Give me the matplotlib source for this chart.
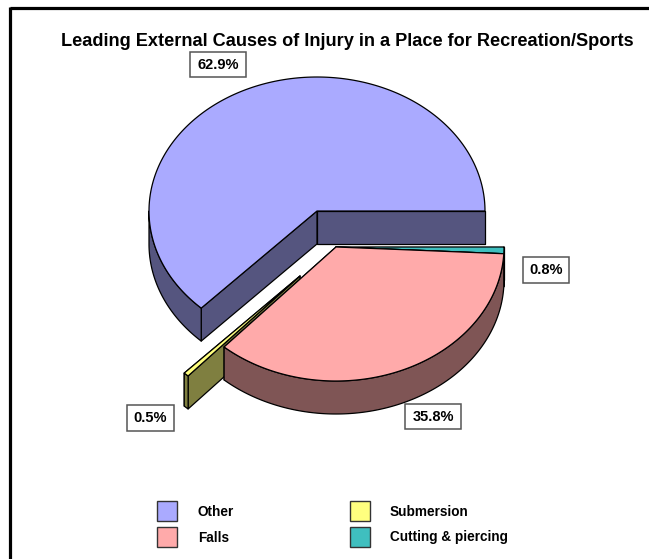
import numpy as np
import matplotlib
matplotlib.use("Agg")
import matplotlib.pyplot as plt
from matplotlib.patches import Polygon, Rectangle

categories = ['Other', 'Submersion', 'Falls', 'Cutting & piercing']
values = [62.9, 0.5, 35.8, 0.8]
colors = ['#AAAAFF', '#FFFF7F', '#FFAAAA', '#3FBFBF']
sides = ['#55557F', '#7F7F40', '#7F5555', '#1F7F7F']
title = 'Leading External Causes of Injury in a Place for Recreation/Sports'

# pie layout in pixels
RX, RY, DEPTH = 168, 134, 33
centers = [(317, 211), (300, 276), (336, 247), (336, 247)]
label_boxes = [(190, 52, 56, 25), (127, 405, 47, 26), (405, 404, 56, 25), (523, 257, 46, 26)]
legend_pos = [(157, 501, 198), (350, 501, 390), (157, 527, 198), (350, 527, 390)]

plt.rcParams['font.family'] = ['Liberation Sans', 'DejaVu Sans']

fig = plt.figure(figsize=(6.49, 5.59), dpi=100)
ax = fig.add_axes([0, 0, 1, 1])
ax.set_xlim(0, 649)
ax.set_ylim(559, 0)
ax.axis('off')

# frame of the original screenshot
ax.plot([10.2, 10.2], [559, 6.5], color='black', lw=2.3, solid_capstyle='butt')
ax.plot([10, 649], [8.3, 8.3], color='black', lw=2.3, solid_capstyle='butt')


def pt(c, deg, r=1.0, dz=0):
    a = np.radians(deg)
    return c[0] + RX * r * np.cos(a), c[1] - RY * r * np.sin(a) + dz


def arc(c, a0, a1, dz=0):
    t = np.linspace(a0, a1, 200)
    return [pt(c, x, dz=dz) for x in t]


def add(points, color, z):
    ax.add_patch(Polygon(points, closed=True, facecolor=color, edgecolor='black',
                         lw=0.9, joinstyle='round', zorder=z))


def draw_slice(i, a0, a1, z):
    c = centers[i]
    # radial faces first, then the outer wall, then the top
    for a in (a0, a1):
        add([c, pt(c, a), pt(c, a, dz=DEPTH), (c[0], c[1] + DEPTH)], sides[i], z)
    lo, hi = max(a0, 180), min(a1, 360)
    if lo < hi:
        add(arc(c, lo, hi) + arc(c, hi, lo, dz=DEPTH), sides[i], z + 0.1)
    add([c] + arc(c, a0, a1), colors[i], z + 0.2)


# slices run counter-clockwise from 3 o'clock
angles = np.cumsum([0] + values) * 360 / sum(values)
draw_slice(0, angles[0], angles[1], 1)
draw_slice(1, angles[1], angles[2], 2)
# cutting goes under falls, its inner faces are hidden in the reference
draw_slice(3, angles[3], angles[4], 3)
draw_slice(2, angles[2], angles[3], 4)

# value labels
for v, (x, y, w, h) in zip(values, label_boxes):
    ax.add_patch(Rectangle((x, y), w, h, facecolor='white', edgecolor='#555555', lw=1.1, zorder=6))
    ax.text(x + w / 2, y + h / 2 + 0.5, f'{v}%', ha='center', va='center',
            fontsize=10.5, fontweight='bold', zorder=7)

ax.text(347, 41.5, title, ha='center', va='center', fontsize=13.05, fontweight='bold')

# legend
for i, (x, y, tx) in enumerate(legend_pos):
    ax.add_patch(Rectangle((x, y), 20, 20, facecolor=colors[i], edgecolor='#333333', lw=1))
    ax.text(tx, y + 10.5, categories[i], ha='left', va='center', fontsize=9.8, fontweight='bold')

fig.savefig('out.png', dpi=100)
